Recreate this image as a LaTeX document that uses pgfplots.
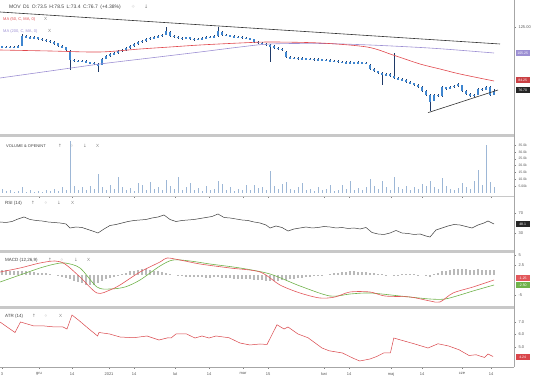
\documentclass[border=0pt]{standalone}
\usepackage{pgfplots}
\pgfplotsset{compat=1.18}
\usepackage{pgfplotstable}
\usepackage{fontspec}
\setmainfont{Liberation Sans}
\newfontfamily\sym{DejaVu Sans}

\definecolor{candle}{HTML}{3F86D0}
\definecolor{wick}{HTML}{1F3A68}
\definecolor{ma50}{HTML}{E0474C}
\definecolor{ma200}{HTML}{9C8FD3}
\definecolor{vol}{HTML}{9DB7D6}
\definecolor{macdc}{HTML}{E2575B}
\definecolor{sigc}{HTML}{6FB24A}
\definecolor{sep}{HTML}{C8C8C8}
\definecolor{lab}{HTML}{555555}
\definecolor{atrc}{HTML}{D9454A}

\pgfplotstableread{
x o h l c
2 110.2 110.8 109.1 109.8
6 109.8 110.4 108.9 109.5
10 109.5 110.7 109.2 110.0
14 110.0 110.6 109.0 109.6
18 109.6 110.9 109.2 110.2
22 110.5 119.5 110.2 117.8
26 117.8 118.6 116.6 117.2
30 117.2 117.8 115.8 116.5
34 116.5 117.7 116.0 116.9
38 116.9 117.4 115.1 115.8
42 115.8 116.3 114.5 115.2
46 115.2 115.9 113.9 114.6
50 114.6 115.1 112.8 113.5
54 113.5 114.0 111.6 112.4
58 112.4 112.9 109.8 110.5
62 110.5 111.2 108.7 109.4
66 109.4 110.0 106.9 107.6
70 106.5 107.2 92.5 100.2
74 100.2 101.0 98.8 99.6
78 99.6 100.3 98.3 99.0
82 99.0 100.1 98.5 99.4
86 99.4 99.9 97.5 98.2
90 98.2 98.8 97.0 97.8
94 97.8 98.4 96.2 97.0
98 97.0 97.6 91.0 96.0
102 96.4 101.7 96.0 101.0
106 101.0 103.5 100.4 102.8
110 102.8 104.9 102.1 104.2
114 104.2 105.8 103.5 105.0
118 105.0 107.5 104.4 106.8
122 106.8 108.2 106.1 107.5
126 107.5 109.6 106.9 108.9
130 108.9 111.0 108.2 110.3
134 110.3 112.7 109.6 112.0
138 112.0 114.3 111.3 113.6
142 113.6 115.2 112.9 114.5
146 114.5 116.5 113.8 115.8
150 115.8 117.2 115.1 116.5
154 116.5 117.8 115.8 117.0
158 117.0 118.5 116.3 117.8
162 117.8 119.8 117.1 119.0
166 119.0 124.5 118.4 121.6
170 121.0 121.6 117.5 118.2
174 118.2 118.9 116.7 117.4
178 117.4 118.0 116.1 116.8
182 116.8 117.4 115.4 116.1
186 116.1 117.6 115.6 116.9
190 116.9 117.5 114.9 115.6
194 115.6 116.2 114.5 115.2
198 115.2 116.5 114.7 115.8
202 115.8 117.1 115.2 116.4
206 116.4 118.0 115.8 117.3
210 117.3 117.9 116.3 117.0
214 117.0 118.9 116.4 118.2
218 118.2 124.8 117.6 121.8
222 121.2 121.8 118.3 119.0
226 119.0 119.7 117.7 118.4
230 118.4 119.1 117.3 118.0
234 118.0 118.6 116.5 117.2
238 117.2 118.3 116.7 117.6
242 117.6 118.2 116.1 116.8
246 116.8 117.4 115.5 116.2
250 116.2 116.8 114.9 115.6
254 115.6 116.1 113.1 113.8
258 113.8 114.5 112.3 113.0
262 113.0 113.6 111.5 112.2
266 112.2 112.9 110.6 111.3
270 111.3 112.0 98.5 110.4
274 110.4 111.0 108.5 109.2
278 109.2 109.9 107.9 108.6
282 108.6 109.1 106.7 107.4
286 106.0 106.6 101.5 102.2
290 102.2 102.9 100.7 101.4
294 101.4 102.5 100.9 101.8
298 101.8 102.3 100.2 100.9
302 100.9 102.0 100.4 101.3
306 101.3 101.8 99.9 100.6
310 100.6 101.6 100.1 100.9
314 100.9 101.4 99.5 100.2
318 100.2 101.2 99.7 100.5
322 100.5 101.0 99.0 99.7
326 99.7 100.6 99.2 99.9
330 99.9 100.4 98.5 99.2
334 99.2 100.2 98.8 99.5
338 99.5 100.0 98.1 98.8
342 98.8 99.4 97.7 98.4
346 98.4 98.9 97.1 97.8
350 97.8 99.0 97.3 98.3
354 98.3 98.8 96.7 97.4
358 97.4 99.5 97.0 98.2
362 98.2 98.7 96.9 97.6
366 97.6 98.6 97.1 97.9
370 96.5 97.0 92.3 93.0
374 93.0 93.7 90.7 91.4
378 91.4 92.1 89.4 90.1
382 90.1 90.8 81.5 88.6
386 88.6 90.1 88.0 89.4
390 89.4 90.0 87.5 88.2
394 88.2 105.0 85.8 86.5
398 86.5 87.2 84.9 85.6
402 85.6 86.3 84.1 84.8
406 84.8 85.5 82.9 83.6
410 83.6 84.3 81.7 82.4
414 82.4 83.1 80.5 81.2
418 81.2 81.9 78.9 79.6
422 79.6 80.3 76.1 76.8
426 76.8 77.5 72.8 73.5
430 73.5 74.2 61.5 68.5
434 69.5 74.7 69.0 74.0
438 74.0 74.6 72.5 73.2
442 73.2 80.2 72.6 79.5
446 79.5 80.1 77.9 78.6
450 78.6 80.5 78.0 79.8
454 79.8 81.3 79.1 80.6
458 80.6 82.5 80.0 81.8
462 81.0 81.5 76.3 77.0
466 77.0 77.7 73.9 74.6
470 74.6 75.2 72.5 73.2
474 73.2 74.7 72.6 74.0
478 74.0 79.1 73.6 78.4
482 78.4 79.0 77.1 77.8
486 77.8 80.6 77.2 79.9
490 79.9 80.5 73.2 73.9
494 73.5 78.5 73.4 76.7
}\candles

\pgfplotstableread{
x v
2 3.0
6 1.2
10 2.0
14 1.0
18 1.5
22 4.5
26 1.0
30 2.2
34 0.8
38 1.5
42 1.0
46 2.5
50 1.2
54 3.0
58 1.8
62 4.0
66 2.5
70 38.0
74 5.0
78 2.0
82 4.5
86 2.0
90 5.0
94 3.0
98 14.0
102 4.0
106 2.5
110 6.0
114 3.0
118 11.5
122 4.0
126 2.0
130 3.5
134 1.5
138 7.0
142 5.5
146 2.0
150 8.0
154 3.0
158 4.5
162 2.5
166 9.5
170 5.0
174 3.0
178 11.5
182 2.0
186 4.0
190 7.5
194 2.5
198 3.5
202 1.5
206 5.0
210 2.0
214 3.0
218 9.0
222 6.5
226 2.5
230 4.0
234 1.5
238 3.0
242 2.0
246 5.5
250 2.0
254 6.0
258 3.5
262 4.5
266 2.5
270 16.0
274 5.0
278 3.0
282 6.5
286 8.0
290 3.0
294 2.0
298 4.0
302 7.0
306 2.0
310 3.0
314 1.5
318 4.5
322 2.0
326 3.0
330 5.5
334 1.8
338 2.5
342 6.0
346 3.0
350 9.0
354 2.0
358 3.5
362 2.0
366 4.0
370 10.0
374 5.0
378 3.0
382 8.5
386 4.0
390 2.5
394 12.0
398 4.0
402 3.0
406 5.0
410 2.5
414 4.0
418 3.0
422 6.5
426 5.0
430 9.0
434 4.0
438 3.0
442 11.0
446 5.0
450 3.0
454 2.0
458 3.5
462 7.5
466 4.0
470 3.0
474 9.0
478 17.0
482 6.0
486 35.0
490 8.0
494 4.0
}\volume

\pgfplotstableread{
x h
2 1.2
6 1.2
10 1.1
14 1.1
18 1.0
22 1.0
26 0.9
30 0.8
34 0.7
38 0.6
42 0.5
46 0.4
50 0.2
54 0.0
58 -0.2
62 -0.4
66 -0.7
70 -1.0
74 -1.4
78 -1.8
82 -2.1
86 -2.4
90 -2.5
94 -2.4
98 -2.0
102 -1.5
106 -1.1
110 -0.7
114 -0.4
118 -0.1
122 0.3
126 0.6
130 0.9
134 1.1
138 1.3
142 1.4
146 1.4
150 1.3
154 1.1
158 0.9
162 0.7
166 0.4
170 0.2
174 0.0
178 -0.2
182 -0.3
186 -0.4
190 -0.5
194 -0.5
198 -0.6
202 -0.6
206 -0.7
210 -0.7
214 -0.6
218 -0.6
222 -0.7
226 -0.8
230 -0.8
234 -0.9
238 -0.9
242 -1.0
246 -1.0
250 -1.1
254 -1.2
258 -1.3
262 -1.3
266 -1.4
270 -1.5
274 -1.5
278 -1.4
282 -1.3
286 -1.2
290 -1.1
294 -0.9
298 -0.8
302 -0.7
306 -0.5
310 -0.4
314 -0.3
318 -0.2
322 -0.1
326 0.0
330 0.2
334 0.4
338 0.6
342 0.7
346 0.8
350 0.9
354 0.9
358 0.8
362 0.8
366 0.7
370 0.5
374 0.4
378 0.3
382 0.2
386 0.1
390 0.0
394 -0.1
398 0.1
402 0.2
406 0.2
410 0.3
414 0.2
418 0.1
422 0.0
426 -0.2
430 -0.4
434 0.2
438 0.6
442 0.9
446 1.1
450 1.3
454 1.4
458 1.5
462 1.4
466 1.4
470 1.3
474 1.3
478 1.4
482 1.3
486 1.2
490 1.3
494 1.2
}\hist

\pgfplotsset{
  panel/.style={
    scale only axis, width=514pt, xmin=0, xmax=514,
    anchor=south west, clip=true,
    axis y line*=right, axis x line*=bottom,
    x axis line style={draw=none}, y axis line style={draw=none},
    xtick=\empty, tick align=outside, major tick length=2pt,
    tick style={draw=gray, line width=0.3pt},
    y tick label style={font=\fontsize{4}{4.5}\selectfont, text=lab, xshift=-1pt},
    x tick label style={font=\fontsize{4}{4.5}\selectfont, text=lab},
  },
}

\begin{document}
\begin{tikzpicture}
\useasboundingbox (0pt,0pt) rectangle (536pt,380pt);

% ---------------- main price panel ----------------
\begin{axis}[panel, at={(0pt,245pt)}, height=135pt,
  ymin=43.75, ymax=145, ytick={125}, yticklabels={125.00}]
\addplot[draw=none, mark=none,
  error bars/.cd, y dir=both, y explicit, error mark=none,
  error bar style={draw=wick, line width=0.4pt}]
  table[x=x, y=c, y error plus expr=\thisrow{h}-\thisrow{c},
        y error minus expr=\thisrow{c}-\thisrow{l}] {\candles};
\addplot[draw=none, mark=none,
  error bars/.cd, y dir=both, y explicit, error mark=none,
  error bar style={draw=candle, line width=2.2pt}]
  table[x=x, y expr=(\thisrow{o}+\thisrow{c})/2,
        y error expr=abs(\thisrow{c}-\thisrow{o})/2] {\candles};
\addplot[ma200, line width=0.6pt, smooth] coordinates {
 (0,86.5)(50,91.75)(100,97)(150,101.5)(200,106)(240,109.75)(270,112)
 (320,112.4)(370,111.25)(420,109.4)(450,107.9)(494,105.25)};
\addplot[ma50, line width=0.6pt, smooth] coordinates {
 (0,107.5)(50,106.75)(100,106)(140,108.25)(170,109.75)(200,111.25)
 (240,112.75)(270,113.5)(320,112.75)(367,109.75)(393,103.75)(420,97)
 (440,93.25)(460,89.5)(494,84.25)};
\addplot[black!80, line width=0.6pt] coordinates {(0,136)(500,112)};
\addplot[black!80, line width=0.6pt] coordinates {(428,60.5)(498,77.5)};
\end{axis}

% ---------------- volume panel ----------------
\begin{axis}[panel, at={(0pt,184pt)}, height=59pt,
  ymin=-2.2, ymax=40.8,
  ytick={5,10,15,20,25,30,35},
  yticklabels={5.00k,10.0k,15.0k,20.0k,25.0k,30.0k,35.0k},
  y tick label style={font=\fontsize{3.4}{3.6}\selectfont},
  xtick={39,72,109,134,175,209,243,268,324,349,391,422,462,491},
  xticklabels={}]
\addplot[ycomb, vol, line width=0.6pt] table[x=x, y=v] {\volume};
\end{axis}

% ---------------- RSI panel ----------------
\begin{axis}[panel, at={(0pt,130pt)}, height=53pt,
  ymin=-4, ymax=102, ytick={30,70}, yticklabels={30,70}]
\addplot[black!75, line width=0.5pt] coordinates {
 (0,52)(6,51)(12,53)(18,58)(24,62)(30,57)(36,55)(42,54)(48,52)(54,51)
 (60,50)(66,48)(70,40)(76,42)(82,41)(88,37)(94,33)(98,30)(104,38)(110,45)
 (116,47)(122,50)(128,53)(134,55)(140,56)(146,57)(152,60)(158,62)(164,66)
 (170,57)(176,53)(182,55)(188,56)(194,57)(200,59)(206,61)(212,63)(218,68)
 (224,61)(230,60)(236,58)(242,56)(248,55)(254,52)(260,50)(266,46)(270,40)
 (276,44)(282,41)(288,34)(294,38)(300,40)(306,42)(312,40)(318,41)(324,43)
 (330,42)(336,40)(342,41)(348,39)(354,40)(360,38)(366,41)(372,31)(378,28)
 (384,27)(390,30)(396,35)(402,30)(408,29)(414,27)(420,28)(426,24)(430,22)
 (436,36)(442,40)(448,44)(454,47)(460,46)(466,43)(472,40)(478,46)(484,50)
 (488,54)(494,48)};
\end{axis}

% ---------------- MACD panel ----------------
\begin{axis}[panel, at={(0pt,74pt)}, height=53pt,
  ymin=-7.75, ymax=5.5, ytick={-5,2.5,5}, yticklabels={-5,2.5,5}]
\addplot[ycomb, gray!55, line width=1.1pt] table[x=x, y=h] {\hist};
\addplot[sigc, line width=0.6pt, smooth] coordinates {
 (0,-1.75)(20,0)(40,1.75)(55,2.75)(65,3)(80,1.75)(97,-3)(110,-3.5)(125,-3)
 (140,-1.25)(160,2.25)(173,3.75)(190,3.5)(210,2.75)(240,1.75)(270,0.25)
 (300,-2.75)(330,-5.25)(350,-4.75)(370,-4.5)(400,-5.25)(430,-6)(445,-6)
 (460,-5)(473,-4)(494,-2.5)};
\addplot[macdc, line width=0.6pt, smooth] coordinates {
 (0,0.75)(20,1.75)(40,3)(55,3.5)(65,2.75)(80,-0.5)(97,-4.5)(110,-3.75)
 (120,-2.5)(140,0.75)(160,3.25)(167,4.25)(180,3.75)(200,2.75)(230,1.75)
 (260,0.75)(280,-2.5)(300,-4.5)(320,-5.75)(335,-5.5)(350,-4.25)(370,-4.25)
 (385,-5.25)(410,-5.5)(430,-6.5)(440,-6.75)(453,-4.5)(473,-3)(494,-1.25)};
\end{axis}

% ---------------- ATR panel ----------------
\begin{axis}[panel, at={(0pt,13pt)}, height=57pt,
  ymin=3.4, ymax=7.96, ytick={5,6,7}, yticklabels={5.0,6.0,7.0},
  xtick={2,39,72,109,134,175,209,243,268,324,349,391,422,462,491},
  xticklabels={3,gru,14,2021,14,lut,14,mar,15,kwi,14,maj,14,cze,14}]
\addplot[atrc, line width=0.5pt] coordinates {
 (0,7.0)(15,6.16)(20.5,7.0)(34,6.68)(44.5,6.68)(55,6.6)(63,6.6)(67,6.44)
 (72,7.56)(79,7.12)(89,6.44)(97.6,5.88)(99,6.16)(109.6,6.04)(120,5.8)
 (133.5,5.74)(147,5.88)(159,5.56)(168,5.74)(171,5.72)(176,6.04)(186.6,6.04)
 (195,5.72)(202,5.88)(209,5.72)(216,5.88)(229,5.74)(240,5.32)(250,5.16)
 (260,5.24)(267,5.2)(277,6.78)(284,6.44)(288,6.6)(298,6.04)(308,5.74)
 (322,4.92)(329,4.7)(342.5,4.52)(352.7,4.12)(359.6,3.88)(370,4.04)
 (376.7,4.24)(383.6,4.52)(390.4,4.52)(393.8,5.72)(400.7,5.56)(414,5.26)
 (428,4.92)(438,5.26)(448.6,5.08)(459,4.78)(469,4.32)(476,4.38)
 (484.6,4.16)(488,4.44)(493,4.24)};
\end{axis}

% ---------------- separators and frame ----------------
\fill[sep] (0pt,243pt) rectangle (514pt,245.5pt);
\draw[sep, line width=0.5pt] (0pt,184pt) -- (514pt,184pt);
\fill[sep] (0pt,127pt) rectangle (514pt,130pt);
\fill[sep] (0pt,71pt) rectangle (514pt,74pt);
\draw[gray!70, line width=0.4pt] (0pt,13pt) -- (514pt,13pt);
\draw[gray!70, line width=0.4pt] (514pt,13pt) -- (514pt,380pt);

% ---------------- titles ----------------
\begin{scope}[every node/.style={anchor=west, inner sep=0pt, text=black!75}]
\node[font=\fontsize{5}{6}\selectfont] at (9pt,373pt)
  {MOV\enspace D1\enspace O:73.5\enspace H:78.5\enspace L:73.4\enspace C:76.7\enspace (+4.38\%)};
\node[font=\fontsize{5}{6}\selectfont\sym, text=gray] at (131pt,373pt) {⁘};
\node[font=\fontsize{5}{6}\selectfont\sym, text=gray] at (144pt,373pt) {↓};
\node[font=\fontsize{4}{5}\selectfont, text=ma50] at (3pt,361pt) {MA (50, C, MA, 0)};
\node[font=\fontsize{4.5}{5}\selectfont, text=gray] at (44pt,361pt) {X};
\node[font=\fontsize{4}{5}\selectfont, text=ma200] at (3pt,349pt) {MA (200, C, MA, 0)};
\node[font=\fontsize{4.5}{5}\selectfont, text=gray] at (48pt,349pt) {X};

\node[font=\fontsize{4}{5}\selectfont] at (6pt,234pt) {VOLUME \& OPENINT};
\node[font=\fontsize{4.5}{5}\selectfont\sym, text=gray] at (58pt,234pt) {↑};
\node[font=\fontsize{4.5}{5}\selectfont\sym, text=gray] at (70pt,234pt) {⁘};
\node[font=\fontsize{4.5}{5}\selectfont\sym, text=gray] at (83pt,234pt) {↓};
\node[font=\fontsize{4.5}{5}\selectfont, text=gray] at (96pt,234pt) {X};

\node[font=\fontsize{4.5}{5}\selectfont] at (5pt,177pt) {RSI (14)};
\node[font=\fontsize{4.5}{5}\selectfont\sym, text=gray] at (31pt,177pt) {↑};
\node[font=\fontsize{4.5}{5}\selectfont\sym, text=gray] at (44pt,177pt) {⁘};
\node[font=\fontsize{4.5}{5}\selectfont\sym, text=gray] at (57pt,177pt) {↓};
\node[font=\fontsize{4.5}{5}\selectfont, text=gray] at (71pt,177pt) {X};

\node[font=\fontsize{4.5}{5}\selectfont] at (5pt,120pt) {MACD (12,26,9)};
\node[font=\fontsize{4.5}{5}\selectfont\sym, text=gray] at (48pt,120pt) {↑};
\node[font=\fontsize{4.5}{5}\selectfont\sym, text=gray] at (60pt,120pt) {⁘};
\node[font=\fontsize{4.5}{5}\selectfont\sym, text=gray] at (74pt,120pt) {↓};
\node[font=\fontsize{4.5}{5}\selectfont, text=gray] at (87pt,120pt) {X};

\node[font=\fontsize{4.5}{5}\selectfont] at (5pt,64pt) {ATR (14)};
\node[font=\fontsize{4.5}{5}\selectfont\sym, text=gray] at (32pt,64pt) {↑};
\node[font=\fontsize{4.5}{5}\selectfont\sym, text=gray] at (44pt,64pt) {⁘};
\node[font=\fontsize{4.5}{5}\selectfont, text=gray] at (59pt,64pt) {X};
\end{scope}

% ---------------- value boxes on the right ----------------
\begin{scope}[every node/.style={anchor=west, inner sep=0.4pt, minimum width=14pt,
  minimum height=6pt, text=white, font=\fontsize{3.5}{4}\selectfont}]
\node[fill=ma200] at (515.5pt,327pt) {105.25};
\node[fill=ma50!90!black] at (515.5pt,300pt) {84.25};
\node[fill=black!85] at (515.5pt,290pt) {76.70};
\node[fill=black!85] at (515.5pt,156pt) {48.1};
\node[fill=macdc] at (515.5pt,102pt) {-1.25};
\node[fill=sigc] at (515.5pt,95pt) {-2.50};
\node[fill=atrc] at (515.5pt,23pt) {4.24};
\end{scope}
\end{tikzpicture}
\end{document}
